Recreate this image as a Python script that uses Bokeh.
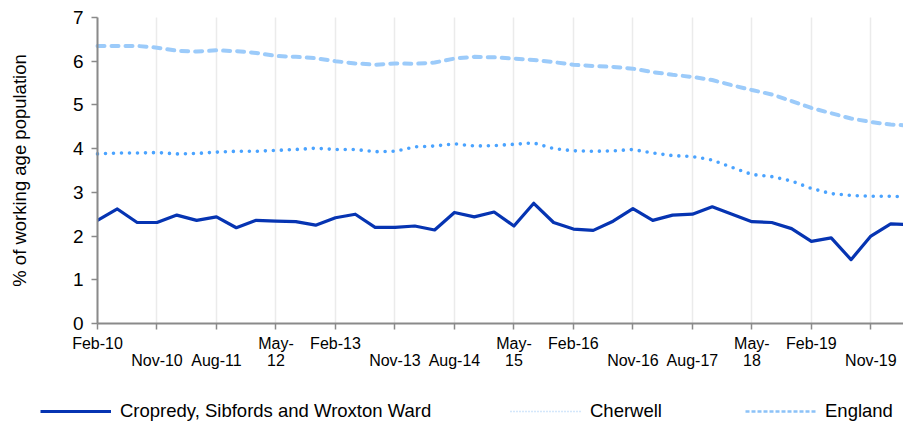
from bokeh.plotting import figure
from bokeh.models import Range1d, FixedTicker, Legend, LegendItem, ColumnDataSource
from bokeh.embed import file_html
from bokeh.resources import INLINE

months = ["Feb", "May", "Aug", "Nov"]
quarters = [f"{months[i % 4]}-{10 + i // 4:02d}" for i in range(42)]

cropredy = [2.36, 2.62, 2.31, 2.31, 2.48, 2.36, 2.44, 2.19, 2.36, 2.34,
            2.33, 2.25, 2.42, 2.50, 2.20, 2.20, 2.23, 2.14, 2.54, 2.44,
            2.55, 2.23, 2.75, 2.31, 2.16, 2.13, 2.34, 2.63, 2.36, 2.48,
            2.50, 2.67, 2.50, 2.33, 2.31, 2.17, 1.88, 1.96, 1.46, 2.00,
            2.28, 2.26]
cherwell = [3.88, 3.90, 3.90, 3.91, 3.88, 3.89, 3.92, 3.94, 3.94, 3.96,
            3.98, 4.01, 3.98, 3.98, 3.93, 3.94, 4.04, 4.06, 4.11, 4.06,
            4.07, 4.10, 4.13, 4.00, 3.95, 3.94, 3.95, 3.98, 3.90, 3.84,
            3.82, 3.74, 3.57, 3.41, 3.36, 3.26, 3.09, 2.97, 2.93, 2.91,
            2.91, 2.90]
england = [6.35, 6.35, 6.35, 6.31, 6.24, 6.22, 6.25, 6.23, 6.19, 6.12,
           6.10, 6.07, 6.00, 5.95, 5.92, 5.95, 5.94, 5.97, 6.06, 6.10,
           6.09, 6.06, 6.03, 5.98, 5.92, 5.89, 5.87, 5.83, 5.75, 5.69,
           5.64, 5.57, 5.45, 5.34, 5.24, 5.09, 4.93, 4.81, 4.69, 4.61,
           4.55, 4.53]

tick_idx = list(range(0, 40, 3))
tick_labels = ["Feb-10\n ", " \nNov-10", " \nAug-11", "May-\n12",
               "Feb-13\n ", " \nNov-13", " \nAug-14", "May-\n15",
               "Feb-16\n ", " \nNov-16", " \nAug-17", "May-\n18",
               "Feb-19\n ", " \nNov-19"]
y_ticks = [0, 1, 2, 3, 4, 5, 6, 7]
series_names = ["Cropredy, Sibfords and Wroxton Ward", "Cherwell", "England"]

FONT = "Liberation Sans"
x = list(range(len(quarters)))
src = ColumnDataSource(dict(x=x, crop=cropredy, cher=cherwell, eng=england))

# frame covers the whole canvas; axes are pinned at 0
X_END = 40.645
PX_PER_Q = 806 / X_END
PX_PER_U = 306 / 7
Y_START = -102 / PX_PER_U
Y_END = 7 + 17 / PX_PER_U

p = figure(width=903, height=425, output_backend="svg", toolbar_location=None,
           x_range=Range1d(-97 / PX_PER_Q, X_END), y_range=Range1d(Y_START, Y_END),
           min_border_left=0, min_border_right=0, min_border_top=0,
           min_border_bottom=0)
p.outline_line_color = None
p.background_fill_color = "white"

p.line("x", "eng", source=src, line_color="#9ccbfa", line_width=4,
       line_dash="7 7", line_cap="round")
p.line("x", "cher", source=src, line_color="#4aa3ff", line_width=3.6,
       line_dash="0 8", line_cap="round")
p.line("x", "crop", source=src, line_color="#0634b2", line_width=3.2,
       line_join="round")

# legend-only renderers (single point, draws nothing)
dummy = ColumnDataSource(dict(x=[0], y=[-100]))
r1 = p.line("x", "y", source=dummy, line_color="#0634b2", line_width=3)
r2 = p.line("x", "y", source=dummy, line_color="#a9cff8", line_width=1.5, line_dash="1 2")
r3 = p.line("x", "y", source=dummy, line_color="#8cc2f8", line_width=2.5, line_dash="4 2")

for r, name, loc in [(r1, series_names[0], (40, 3)),
                     (r2, series_names[1], (510, 3)),
                     (r3, series_names[2], (745, 3))]:
    leg = Legend(items=[LegendItem(label=name, renderers=[r])], location=loc,
                 orientation="horizontal", border_line_color=None,
                 background_fill_alpha=0, padding=0, margin=0, glyph_width=71,
                 glyph_height=20, label_height=20, label_standoff=9,
                 label_text_font=FONT, label_text_font_size="18.5px",
                 label_text_color="#000000")
    p.add_layout(leg)

# axes
xa = p.xaxis[0]
xa.fixed_location = 0
xa.bounds = (0, X_END)
xa.ticker = FixedTicker(ticks=tick_idx)
xa.major_label_overrides = {i: l for i, l in zip(tick_idx, tick_labels)}
xa.minor_tick_line_color = None
xa.axis_line_color = "#8a8a8a"
xa.axis_line_width = 2
xa.major_tick_line_color = "#8a8a8a"
xa.major_tick_line_width = 1.5
xa.major_tick_out = 6
xa.major_tick_in = 0
xa.major_label_standoff = 5
xa.major_label_text_font = FONT
xa.major_label_text_font_size = "16px"
xa.major_label_text_line_height = 1.0
xa.major_label_text_color = "#000000"

ya = p.yaxis[0]
ya.fixed_location = 0
ya.bounds = (0, 7)
ya.ticker = FixedTicker(ticks=y_ticks)
ya.minor_tick_line_color = None
ya.axis_line_color = "#8a8a8a"
ya.axis_line_width = 2
ya.major_tick_line_color = "#8a8a8a"
ya.major_tick_line_width = 1.5
ya.major_tick_out = 6
ya.major_tick_in = 0
ya.major_label_standoff = 8
ya.major_label_text_font = FONT
ya.major_label_text_font_size = "19px"
ya.major_label_text_color = "#000000"
ya.axis_label = "% of working age population"
ya.axis_label_text_font = FONT
ya.axis_label_text_font_size = "18.5px"
ya.axis_label_text_font_style = "normal"
ya.axis_label_text_color = "#000000"
ya.axis_label_standoff = 40

p.xgrid.ticker = FixedTicker(ticks=tick_idx)
p.xgrid.cross_bounds = (0, 7)
p.xgrid.grid_line_color = "#ebebeb"
p.xgrid.grid_line_width = 1.5
p.ygrid.grid_line_color = None

open("out.html", "w").write(file_html(p, INLINE))
